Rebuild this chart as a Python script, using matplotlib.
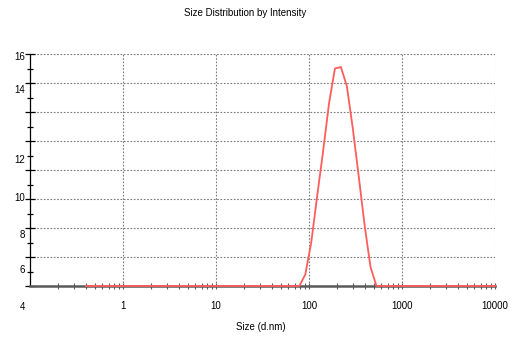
"""Size distribution by intensity (DLS) - single peak around 200 nm."""

import matplotlib
matplotlib.use("Agg")
import matplotlib.pyplot as plt
from matplotlib.ticker import LogLocator, NullFormatter, FixedLocator
from matplotlib.transforms import blended_transform_factory

plt.rcParams["font.family"] = ["Liberation Sans", "DejaVu Sans"]

# size bins (d.nm) and intensity (%)
sizes = [0.4, 78.82, 91.28, 105.7, 122.4, 141.8, 164.2, 190.1, 220.2,
         255.0, 295.3, 342.0, 396.1, 458.7, 531.2, 10000]
intensity = [0.0, 0.0, 0.8, 3.0, 6.2, 9.3, 12.6, 15.0, 15.1,
             13.8, 10.9, 7.6, 4.2, 1.3, 0.0, 0.0]

x_ticks = [1, 10, 100, 1000, 10000]
x_labels = ["1", "10", "100", "1000", "10000"]
y_grid = [0, 2, 4, 6, 8, 10, 12, 14, 16]
# the y labels sit where the source image put them (not on the gridlines)
y_label_text = ["16", "14", "12", "10", "8", "6", "4"]
y_label_pos = [15.81, 13.52, 8.69, 6.07, 3.52, 1.10, -1.45]

fig = plt.figure(figsize=(5.16, 3.38), dpi=100)
ax = fig.add_axes([30 / 516, 52 / 338, 465 / 516, 232 / 338])

ax.plot(sizes, intensity, color="#ff5c5c", lw=1.3, clip_on=False, zorder=5)

ax.set_xscale("log")
ax.set_xlim(0.1, 10000)
ax.set_ylim(0, 16)

ax.xaxis.set_major_locator(FixedLocator(x_ticks))
ax.set_xticklabels(x_labels)
ax.xaxis.set_minor_locator(LogLocator(base=10, subs=range(2, 10), numticks=20))
ax.xaxis.set_minor_formatter(NullFormatter())

ax.set_yticks(y_grid)
ax.set_yticks([v + 1 for v in y_grid[:-1]], minor=True)
ax.set_yticklabels([])

for s in ["top", "right"]:
    ax.spines[s].set_visible(False)
ax.spines["left"].set_color("black")
ax.spines["left"].set_linewidth(0.9)
ax.spines["bottom"].set_color("#5a5a5a")
ax.spines["bottom"].set_linewidth(1.8)

ax.tick_params(axis="x", which="both", direction="inout", length=4, width=0.8,
               color="#5a5a5a", labelsize=7, pad=9)
ax.tick_params(axis="y", which="major", direction="inout", length=7, width=0.9,
               color="black")
ax.tick_params(axis="y", which="minor", direction="inout", length=5, width=0.9,
               color="black")

ax.grid(True, which="major", color="#7a7a7a", lw=0.8, ls=(0, (1.5, 1.5)))
ax.grid(False, which="minor")

trans = blended_transform_factory(fig.transFigure, ax.transData)
for txt, pos in zip(y_label_text, y_label_pos):
    ax.text(25 / 516, pos, txt, transform=trans, ha="right", va="center",
            fontsize=7, clip_on=False)

fig.text(245 / 516, 1 - 13 / 338, "Size Distribution by Intensity",
         ha="center", va="center", fontsize=7)
fig.text(261 / 516, 1 - 327 / 338, "Size (d.nm)", ha="center", va="center",
         fontsize=7)

fig.savefig("out.png", dpi=100)
